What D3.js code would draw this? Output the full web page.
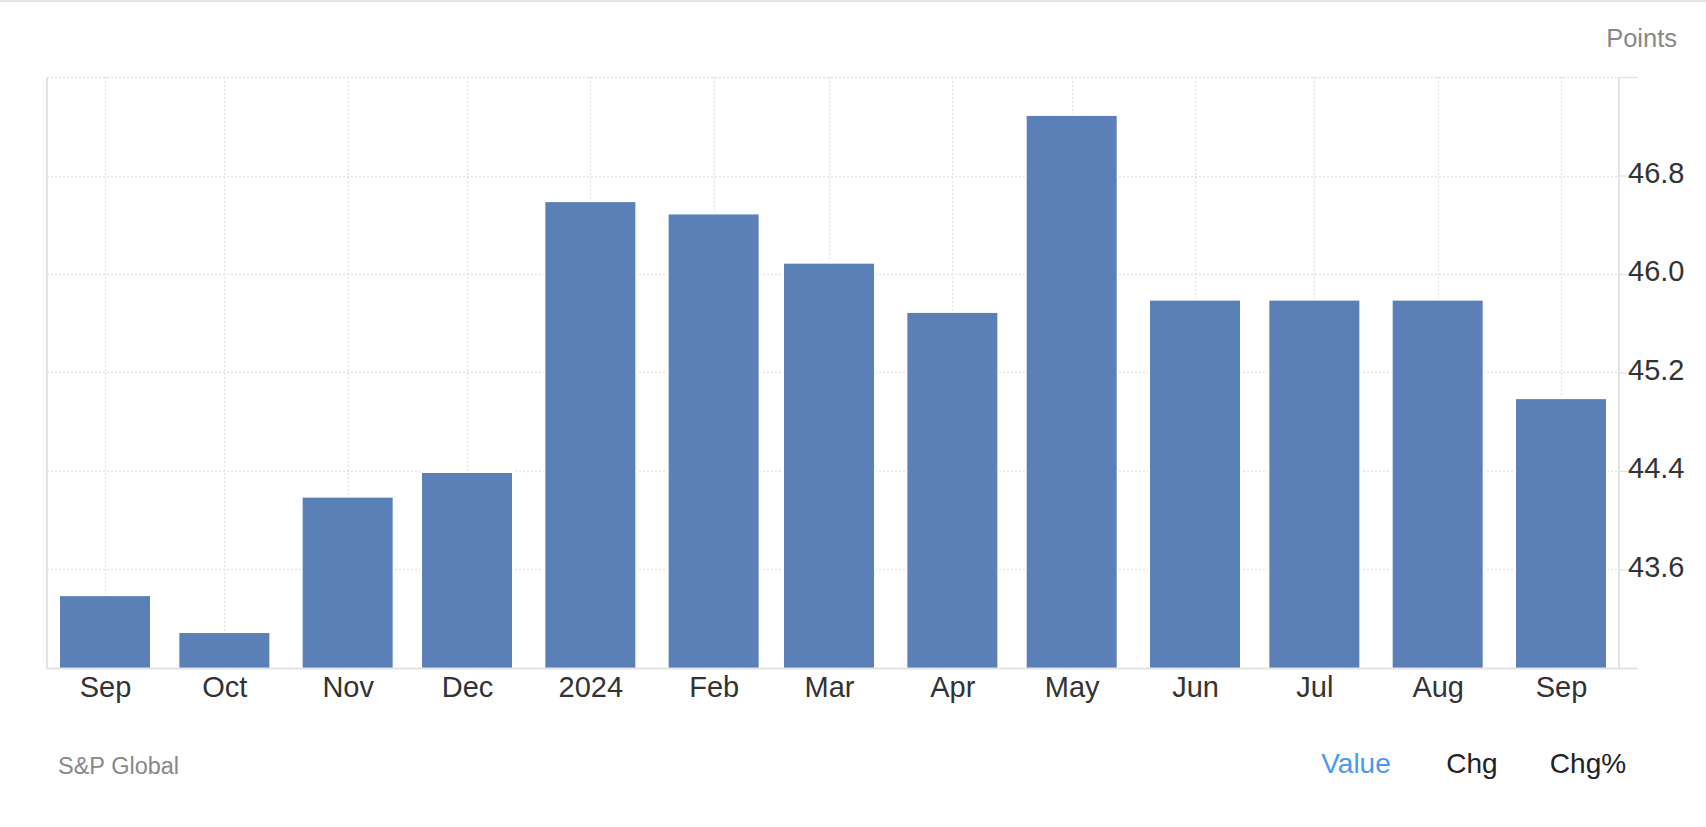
<!DOCTYPE html>
<html>
<head>
<meta charset="utf-8">
<script src="https://cdn.jsdelivr.net/npm/d3@7/dist/d3.min.js"></script>
<style>
  html, body { margin: 0; padding: 0; background: #fff; }
  svg { display: block; font-family: "Liberation Sans", Arial, Helvetica, sans-serif; }
</style>
</head>
<body>
<svg id="chart" width="1706" height="827"></svg>
<script>
// ---- data ----
const months = ["2023-09-01","2023-10-01","2023-11-01","2023-12-01","2024-01-01","2024-02-01",
                "2024-03-01","2024-04-01","2024-05-01","2024-06-01","2024-07-01","2024-08-01","2024-09-01"];
const monthLabels = ["Sep","Oct","Nov","Dec","2024","Feb","Mar","Apr","May","Jun","Jul","Aug","Sep"];
const values = [43.4, 43.1, 44.2, 44.4, 46.6, 46.5, 46.1, 45.7, 47.3, 45.8, 45.8, 45.8, 45.0];
const yTicks = [43.6, 44.4, 45.2, 46.0, 46.8];
const yGrid = [43.6, 44.4, 45.2, 46.0, 46.8, 47.6];
const unitLabel = "Points";
const sourceLabel = "S&P Global";
const tabs = ["Value", "Chg", "Chg%"];

// ---- layout ----
const plotLeft = 47, plotRight = 1619, plotTop = 77, plotBottom = 668;
const barWidth = 90;
const svg = d3.select("#chart");
const dates = months.map(d => new Date(d + "T00:00:00Z"));

const x = d3.scaleUtc()
  .domain([dates[0], dates[dates.length - 1]])
  .range([105, 1561]);
const y = d3.scaleLinear().domain([42.8, 47.6]).range([plotBottom + 1, plotTop + 1]);

// top page border
svg.append("rect").attr("x", 0).attr("y", 0).attr("width", 1706).attr("height", 2).attr("fill", "#e3e3e3");

// horizontal gridlines
svg.append("g").selectAll("line").data(yGrid).join("line")
  .attr("x1", plotLeft).attr("x2", plotRight)
  .attr("y1", d => Math.round(y(d)) - 0.5).attr("y2", d => Math.round(y(d)) - 0.5)
  .attr("stroke", "#e2e2e2").attr("stroke-width", 1.3).attr("stroke-dasharray", "2,2");

// vertical gridlines
svg.append("g").selectAll("line").data(dates).join("line")
  .attr("x1", d => Math.round(x(d)) + 0.5).attr("x2", d => Math.round(x(d)) + 0.5)
  .attr("y1", plotTop).attr("y2", plotBottom)
  .attr("stroke", "#e2e2e2").attr("stroke-width", 1.3).attr("stroke-dasharray", "2,2");

// bars (thin white border like the original renderer)
svg.append("g").selectAll("rect").data(values).join("rect")
  .attr("x", (d, i) => x(dates[i]) - barWidth / 2 - 1)
  .attr("width", barWidth + 2)
  .attr("y", d => y(d))
  .attr("height", d => plotBottom - y(d) + 1)
  .attr("fill", "#5a80b7")
  .attr("stroke", "#fff").attr("stroke-width", 2);

// left axis line
svg.append("line").attr("x1", plotLeft).attr("x2", plotLeft).attr("y1", plotTop).attr("y2", plotBottom + 1)
  .attr("stroke", "#e3e3e3").attr("stroke-width", 2);
// right axis line
svg.append("line").attr("x1", plotRight).attr("x2", plotRight).attr("y1", plotTop).attr("y2", plotBottom)
  .attr("stroke", "#e3e3e3").attr("stroke-width", 2);
// bottom axis line
svg.append("line").attr("x1", plotLeft - 1).attr("x2", 1638).attr("y1", plotBottom + 0.5).attr("y2", plotBottom + 0.5)
  .attr("stroke", "#e3e3e3").attr("stroke-width", 2);
// top tick
svg.append("line").attr("x1", plotRight).attr("x2", 1638).attr("y1", Math.round(y(47.6)) - 0.5).attr("y2", Math.round(y(47.6)) - 0.5)
  .attr("stroke", "#e3e3e3").attr("stroke-width", 1.3);

// y axis (right)
const yAxis = d3.axisRight(y).tickValues(yTicks).tickFormat(d3.format(".1f")).tickSize(9).tickPadding(0);
const gy = svg.append("g").attr("transform", `translate(${plotRight},0)`).call(yAxis);
gy.select(".domain").remove();
gy.selectAll(".tick line").attr("stroke", "#e3e3e3").attr("stroke-width", 1.3).attr("transform", "translate(0,-1)");
gy.selectAll(".tick text").attr("fill", "#333").attr("font-size", 29).attr("x", 9).attr("dy", "0.2em")
  .attr("font-family", "'Liberation Sans', Arial, sans-serif");

// x axis
const xAxis = d3.axisBottom(x).tickValues(dates).tickFormat((d, i) => monthLabels[i]).tickSize(0).tickPadding(0);
const gx = svg.append("g").attr("transform", `translate(0,${plotBottom})`).call(xAxis);
gx.select(".domain").remove();
gx.selectAll(".tick text").attr("fill", "#333").attr("font-size", 29).attr("y", 29).attr("dy", 0)
  .attr("font-family", "'Liberation Sans', Arial, sans-serif");

// unit label
svg.append("text").attr("x", 1677).attr("y", 47).attr("text-anchor", "end")
  .attr("font-size", 25.5).attr("fill", "#888").text(unitLabel);

// source label
svg.append("text").attr("x", 58).attr("y", 774).attr("font-size", 23.5).attr("fill", "#888").text(sourceLabel);

// tabs
const tabX = [1356, 1472, 1588];
svg.append("g").selectAll("text").data(tabs).join("text")
  .attr("x", (d, i) => tabX[i]).attr("y", 773).attr("text-anchor", "middle")
  .attr("font-size", 28).attr("fill", (d, i) => i === 0 ? "#4a98ee" : "#222").text(d => d);
</script>
</body>
</html>
